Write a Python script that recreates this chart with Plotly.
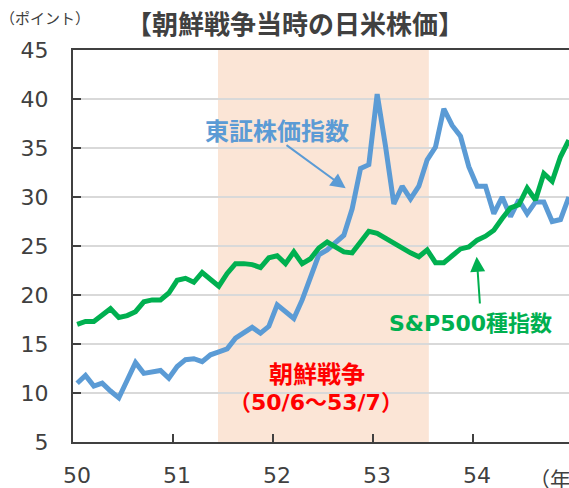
import plotly.graph_objects as go

# ---- data (monthly, Jan 1950 .. Dec 1954) ----
months = list(range(60))
year_labels = ["50", "51", "52", "53", "54"]
year_first_month = [0, 12, 24, 36, 48]

topix = [11.0, 11.8, 10.7, 11.0, 10.2, 9.5, 11.3, 13.1, 12.0, 12.2, 12.3, 11.5,
         12.7, 13.4, 13.5, 13.2, 13.9, 14.2, 14.5, 15.6, 16.1, 16.7, 16.1, 16.8,
         19.0, 18.3, 17.6, 19.5, 21.9, 24.1, 24.6, 25.3, 26.1, 28.8, 32.9, 33.3,
         40.5, 35.2, 29.3, 31.1, 29.8, 31.1, 33.8, 35.1, 39.0, 37.3, 36.2, 33.1,
         31.1, 31.1, 28.3, 30.0, 28.0, 29.7, 28.3, 29.5, 29.5, 27.5, 27.7, 30.0]

sp500 = [17.0, 17.3, 17.3, 18.0, 18.6, 17.7, 17.9, 18.3, 19.3, 19.5, 19.5, 20.2,
         21.5, 21.7, 21.3, 22.3, 21.6, 20.9, 22.2, 23.2, 23.2, 23.1, 22.8, 23.8,
         24.0, 23.2, 24.4, 23.2, 23.7, 24.8, 25.4, 24.9, 24.4, 24.3, 25.5, 26.5,
         26.3, 25.8, 25.3, 24.7, 24.3, 23.9, 24.6, 23.3, 23.3, 24.0, 24.7, 24.9,
         25.6, 26.0, 26.6, 27.8, 28.9, 29.2, 30.9, 29.7, 32.4, 31.6, 34.1, 35.8]

war_period = (16.9, 42.2)  # shaded band, in month-index units

JP = "Noto Sans CJK JP"
MIX = "DejaVu Sans, Noto Sans CJK JP"
BLUE = "#5B9BD5"
GREEN = "#00B050"
RED = "#FF0000"
DARK = "#404040"

fig = go.Figure()

fig.add_trace(go.Scatter(x=months, y=topix, mode="lines",
                         line=dict(color=BLUE, width=5), hoverinfo="skip"))
fig.add_trace(go.Scatter(x=months, y=sp500, mode="lines",
                         line=dict(color=GREEN, width=5), hoverinfo="skip"))

fig.add_shape(type="rect", xref="x", yref="paper",
              x0=war_period[0], x1=war_period[1], y0=0, y1=1,
              fillcolor="#FBE5D6", line=dict(width=0), layer="between")

# tick positions: year boundaries; labels shifted to the January category
tick_pos = [m - 0.5 for m in year_first_month]

fig.update_xaxes(range=[-0.5, 59.02], tickmode="array", tickvals=tick_pos,
                 ticktext=year_labels, ticks="inside", ticklen=8, tickwidth=2,
                 tickcolor=DARK, showline=True, linecolor=DARK, linewidth=2,
                 mirror=True, showgrid=False, zeroline=False, automargin=False,
                 ticklabelshift=4, ticklabelstandoff=13,
                 tickfont=dict(family="DejaVu Sans", size=22, color=DARK))
fig.update_yaxes(range=[5, 45], tickmode="linear", tick0=5, dtick=5,
                 ticks="inside", ticklen=8, tickwidth=2, tickcolor=DARK,
                 showline=True, linecolor=DARK, linewidth=2, automargin=False,
                 showgrid=True, gridcolor="#D9D9D9", gridwidth=1.5,
                 zeroline=False, ticklabelstandoff=18,
                 tickfont=dict(family="DejaVu Sans", size=22, color=DARK))

ann = []
# title
ann.append(dict(text="<b>【朝鮮戦争当時の日米株価】</b>", xref="paper", yref="paper",
                x=0.4476, y=1.0714, xanchor="center", yanchor="middle",
                showarrow=False, font=dict(family=JP, size=26, color=DARK)))
ann.append(dict(text="（ポイント）", xref="paper", yref="paper",
                x=-0.151, y=1.084, xanchor="left", yanchor="middle",
                showarrow=False, font=dict(family=JP, size=15, color=DARK)))
ann.append(dict(text="（年）", xref="paper", yref="paper",
                x=0.915, y=-0.092, xanchor="left", yanchor="middle",
                showarrow=False, font=dict(family=JP, size=21, color=DARK)))
# series labels
ann.append(dict(text="<b>東証株価指数</b>", x=23.98, y=36.84, xanchor="center",
                yanchor="middle", showarrow=False,
                font=dict(family=JP, size=24, color=BLUE)))
ann.append(dict(text="", x=32.22, y=30.89, ax=24.94, ay=35.41, axref="x", ayref="y",
                showarrow=True, arrowhead=2, arrowsize=1.5, arrowwidth=2,
                arrowcolor=BLUE, standoff=0, startstandoff=0))
ann.append(dict(text="<b>S&P500種指数</b>", x=47.14, y=17.14, xanchor="center",
                yanchor="middle", showarrow=False,
                font=dict(family=MIX, size=22, color=GREEN)))
ann.append(dict(text="", x=47.94, y=23.91, ax=48.34, ay=18.98, axref="x", ayref="y",
                showarrow=True, arrowhead=2, arrowsize=1.5, arrowwidth=2,
                arrowcolor=GREEN, standoff=0, startstandoff=0))
# war label
ann.append(dict(text="<b>朝鮮戦争</b>", x=28.78, y=12.14, xanchor="center",
                yanchor="middle", showarrow=False,
                font=dict(family=JP, size=24, color=RED)))
ann.append(dict(text="<b>（50/6～53/7）</b>", x=28.66, y=9.08, xanchor="center",
                yanchor="middle", showarrow=False,
                font=dict(family=MIX, size=22, color=RED)))

fig.update_layout(width=569, height=488, margin=dict(l=73, r=0, t=50, b=46),
                  paper_bgcolor="white", plot_bgcolor="white",
                  showlegend=False, annotations=ann)

fig.write_html("out.html", config={"displayModeBar": False},
               post_script="document.body.style.margin='0';"
                           "document.body.style.overflow='hidden';")
